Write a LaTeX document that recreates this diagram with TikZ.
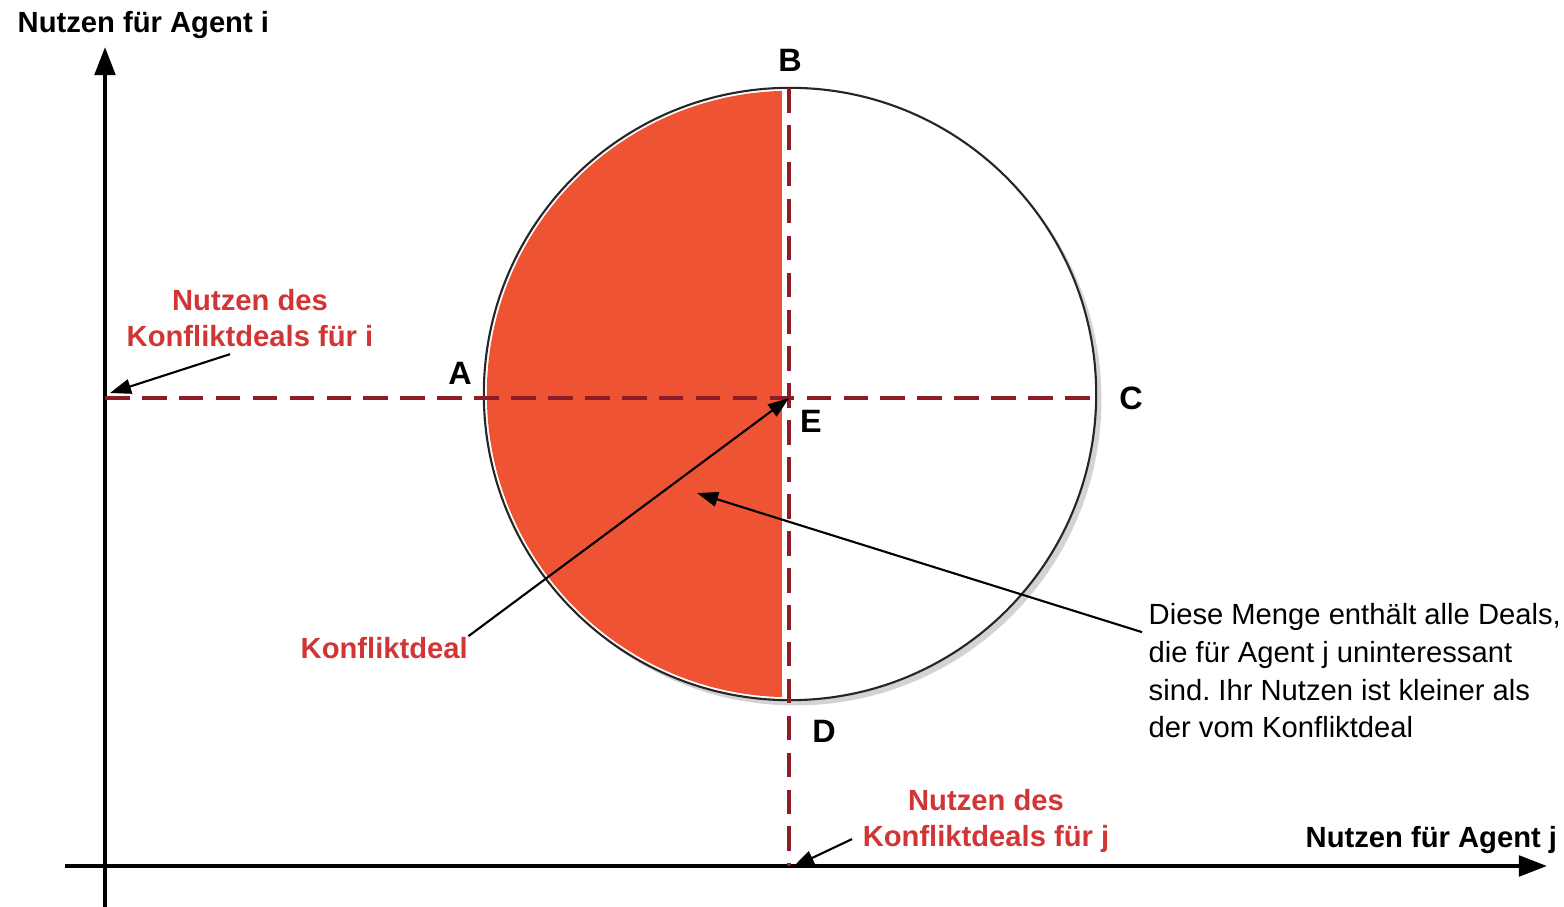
\documentclass[tikz,border=0pt]{standalone}
\usepackage{fontspec}
\setmainfont{Liberation Sans}
\usetikzlibrary{arrows.meta,calc,shadows}
\definecolor{fillred}{RGB}{238,84,52}
\definecolor{dashred}{RGB}{140,28,38}
\definecolor{txtred}{RGB}{208,54,54}
\tikzset{
  axis/.style={line width=1.2pt,-{Triangle[length=8pt,width=5.8pt]}},
  guide/.style={dashred,line width=1.4pt,dash pattern=on 7pt off 3.5pt},
  pointer/.style={line width=0.6pt,-{Triangle[length=6pt,width=4.2pt]}},
  axlabel/.style={font=\bfseries\fontsize{8.3}{10.5}\selectfont,inner sep=0pt},
  redlabel/.style={font=\bfseries\fontsize{8.3}{10.1}\selectfont,text=txtred,inner sep=0pt,align=center},
  ptlabel/.style={font=\bfseries\fontsize{9.2}{11}\selectfont,inner sep=0pt},
  note/.style={font=\fontsize{8.3}{10.7}\selectfont,inner sep=0pt,align=left}
}
\frenchspacing
\begin{document}
\begin{tikzpicture}[x=0.01cm,y=-0.01cm]
\useasboundingbox (0,0) rectangle (1564,907);
% coordinates
\coordinate (E) at (789,398);
\coordinate (Ai) at (105,398);
\coordinate (Cc) at (1096,398);
\coordinate (Btop) at (789,88);
\coordinate (Dj) at (789,866);
\coordinate (ytop) at (105,47);
\coordinate (ybot) at (105,907);
\coordinate (xl) at (65,866);
\coordinate (xr) at (1547,866);
\coordinate (M) at (790,394);
\coordinate (inset) at (697,493);
% circle with shadow
\fill[white,drop shadow={opacity=0.35,shadow xshift=1.5pt,shadow yshift=-1.5pt}] (M) circle[radius=3.06cm];
\begin{scope}
  \clip (M) circle[radius=3.03cm];
  \fill[fillred] (400,0) rectangle (782,800);
\end{scope}
\draw[line width=0.6pt,black!85] (M) circle[radius=3.06cm];
% axes
\draw[axis] (ybot) -- (ytop);
\draw[axis] (xl) -- (xr);
% guides
\draw[guide] (Ai) -- (Cc);
\draw[guide] (Btop) -- (Dj);
% labels
\node[axlabel,anchor=base west] (ylab) at (17,33) {Nutzen für Agent i};
\node[axlabel,anchor=base west] (xlab) at (1305,847) {Nutzen für Agent j};
\node[redlabel] (ilab) at (250,318) {Nutzen des\\Konfliktdeals für i};
\node[redlabel] (jlab) at (986,821) {Nutzen des\\Konfliktdeals für j};
\node[font=\bfseries\fontsize{8.3}{10.5}\selectfont,text=txtred,inner sep=0pt,anchor=base west] (kd) at (300,658) {Konfliktdeal};
\node[note,anchor=west] (menge) at (1148,671) {Diese Menge enthält alle Deals,\\die für Agent j uninteressant\\sind. Ihr Nutzen ist kleiner als\\der vom Konfliktdeal};
\node[ptlabel,anchor=base] (B) at (790,72) {B};
\node[ptlabel,anchor=base] (A) at (460,385) {A};
\node[ptlabel,anchor=base] (C) at (1131,410) {C};
\node[ptlabel,anchor=base] (Elab) at (811,433) {E};
\node[ptlabel,anchor=base] (D) at (824,742) {D};
% pointers
\draw[pointer] ($(ilab.south)+(-20,7)$) -- ($(Ai)+(5,-5)$);
\draw[pointer] (kd.north east) -- (E);
\draw[pointer] ($(menge.north west)+(-6,29)$) -- (inset);
\draw[pointer] ($(jlab.south west)+(-10,-14)$) -- ($(Dj)+(4,1)$);
\end{tikzpicture}
\end{document}
